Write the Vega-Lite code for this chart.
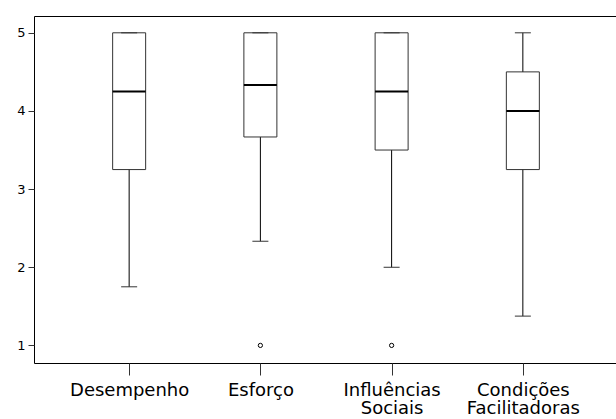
{
  "$schema": "https://vega.github.io/schema/vega-lite/v6.json",
  "autosize": "none",
  "width": 584,
  "height": 347,
  "padding": {"left": 34, "top": 16, "right": 0, "bottom": 56},
  "background": "white",
  "config": {
    "view": {"stroke": "black", "strokeWidth": 1},
    "font": "DejaVu Sans",
    "axis": {"grid": false, "domain": false, "tickColor": "#333", "labelColor": "black"}
  },
  "datasets": {
    "boxes": [
      {"cat": "Desempenho", "min": 1.75, "q1": 3.25, "median": 4.25, "q3": 5, "max": 5},
      {"cat": "Esforço", "min": 2.333, "q1": 3.667, "median": 4.333, "q3": 5, "max": 5},
      {"cat": "Influências Sociais", "min": 2.0, "q1": 3.5, "median": 4.25, "q3": 5, "max": 5},
      {"cat": "Condições Facilitadoras", "min": 1.375, "q1": 3.25, "median": 4.0, "q3": 4.5, "max": 5}
    ],
    "outliers": [
      {"cat": "Esforço", "value": 1},
      {"cat": "Influências Sociais", "value": 1}
    ]
  },
  "encoding": {
    "x": {
      "field": "cat", "type": "nominal", "sort": ["Desempenho", "Esforço", "Influências Sociais", "Condições Facilitadoras"],
      "scale": {"type": "point", "padding": 0.725},
      "axis": {"title": null, "labelAngle": 0, "labelFontSize": 18, "labelLineHeight": 18.5, "tickSize": 12, "labelPadding": 6,
               "labelOverlap": false, "labelBound": false, "labelExpr": "split(datum.label, ' ')"}
    }
  },
  "layer": [
    {
      "data": {"name": "boxes"},
      "mark": {"type": "rule", "color": "black", "strokeWidth": 1},
      "encoding": {
        "y": {"field": "min", "type": "quantitative", "scale": {"domain": [0.775, 5.215], "nice": false, "zero": false},
              "axis": {"title": null, "values": [1, 2, 3, 4, 5], "format": "d", "labelFontSize": 13, "tickSize": 6, "labelPadding": 3}},
        "y2": {"field": "max"}
      }
    },
    {
      "data": {"name": "boxes"},
      "mark": {"type": "bar", "size": 33, "fill": "white", "stroke": "#333", "strokeWidth": 1},
      "encoding": {
        "y": {"field": "q1", "type": "quantitative"},
        "y2": {"field": "q3"}
      }
    },
    {
      "data": {"name": "boxes"},
      "mark": {"type": "tick", "size": 33, "thickness": 2, "color": "black", "opacity": 1},
      "encoding": {"y": {"field": "median", "type": "quantitative"}}
    },
    {
      "data": {"name": "boxes"},
      "mark": {"type": "tick", "size": 16, "thickness": 1, "color": "#333", "opacity": 1},
      "encoding": {"y": {"field": "min", "type": "quantitative"}}
    },
    {
      "data": {"name": "boxes"},
      "mark": {"type": "tick", "size": 16, "thickness": 1, "color": "#333", "opacity": 1},
      "encoding": {"y": {"field": "max", "type": "quantitative"}}
    },
    {
      "data": {"name": "outliers"},
      "mark": {"type": "point", "shape": "circle", "size": 18, "filled": false, "stroke": "black", "strokeWidth": 1, "opacity": 1},
      "encoding": {"y": {"field": "value", "type": "quantitative"}}
    }
  ]
}
